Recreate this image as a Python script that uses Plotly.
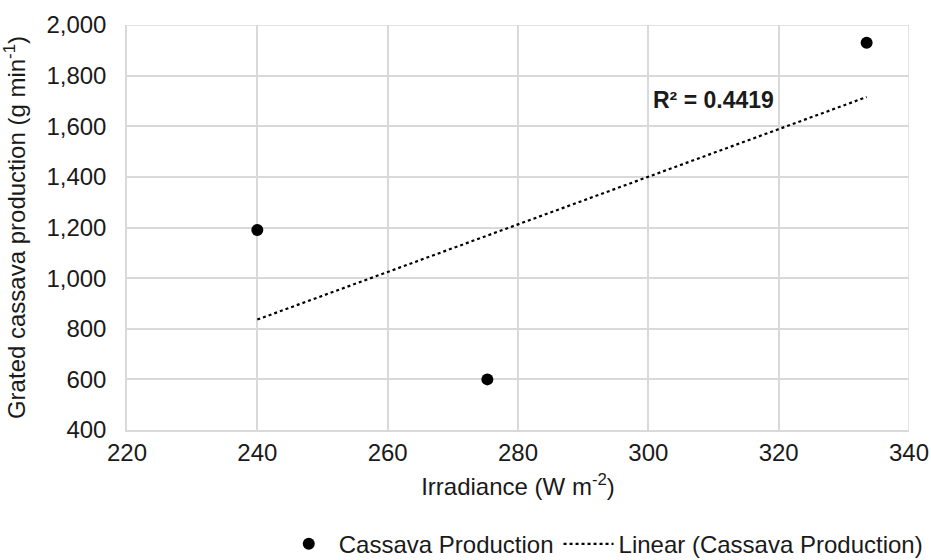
import numpy as np
import plotly.graph_objects as go

# Data
irradiance = [240.0, 275.3, 333.5]
production = [1190, 600, 1930]
r2_label = "R² = 0.4419"

x_ticks = [220, 240, 260, 280, 300, 320, 340]
y_ticks = [400, 600, 800, 1000, 1200, 1400, 1600, 1800, 2000]

# Linear trendline from the data
slope, intercept = np.polyfit(irradiance, production, 1)
tx = [min(irradiance), max(irradiance)]
ty = [slope * v + intercept for v in tx]

FONT = "Liberation Sans, Arial, sans-serif"
FS = 24
TXT = "#1a1a1a"

fig = go.Figure()
fig.add_trace(go.Scatter(
    x=irradiance, y=production, mode="markers", name="Cassava Production",
    marker=dict(color="black", size=12),
))
fig.add_trace(go.Scatter(
    x=tx, y=ty, mode="lines", name="Linear (Cassava Production)",
    line=dict(color="black", width=2.2, dash="dot"),
))

fig.add_annotation(x=310, y=1705, text="<b>" + r2_label + "</b>", showarrow=False,
                   font=dict(family=FONT, size=FS - 1, color=TXT))

fig.update_layout(
    width=931, height=560,
    margin=dict(l=127, r=22, t=25, b=130, autoexpand=False),
    paper_bgcolor="white", plot_bgcolor="white",
    font=dict(family=FONT, size=FS, color=TXT),
    showlegend=True,
    legend=dict(orientation="h", x=1.024, xanchor="right", y=-0.282, yanchor="middle",
                font=dict(family=FONT, size=FS, color=TXT), itemwidth=50,
                tracegroupgap=0, traceorder="normal"),
    xaxis=dict(range=[220, 340], tickvals=x_ticks, ticktext=[str(v) for v in x_ticks],
               showgrid=True, gridcolor="#d9d9d9", gridwidth=1.5,
               showline=True, linecolor="#d9d9d9", linewidth=1.5,
               zeroline=False, ticks="", ticklabelstandoff=0, automargin=False,
               tickfont=dict(family=FONT, size=FS, color=TXT),
               title=dict(text="Irradiance (W m<sup>-2</sup>)", standoff=14,
                          font=dict(family=FONT, size=FS, color=TXT))),
    yaxis=dict(range=[400, 2000], tickvals=y_ticks,
               ticktext=[f"{v:,}" for v in y_ticks],
               showgrid=True, gridcolor="#d9d9d9", gridwidth=1.5,
               showline=True, linecolor="#d9d9d9", linewidth=1.5,
               zeroline=False, ticks="", ticklabelstandoff=14, automargin=False,
               tickfont=dict(family=FONT, size=FS, color=TXT),
               title=dict(text="Grated cassava production (g min<sup>-1</sup>)", standoff=16,
                          font=dict(family=FONT, size=FS, color=TXT))),
)
fig.add_shape(type="line", xref="x", yref="y", x0=340, x1=340, y0=400, y1=2000,
              line=dict(color="#d9d9d9", width=1.5), layer="below")
fig.add_shape(type="line", xref="x", yref="y", x0=220, x1=340, y0=2000, y1=2000,
              line=dict(color="#d9d9d9", width=1.5), layer="below")

fig.write_html("out.html", config={"displayModeBar": False},
               post_script="document.body.style.margin='0';")
